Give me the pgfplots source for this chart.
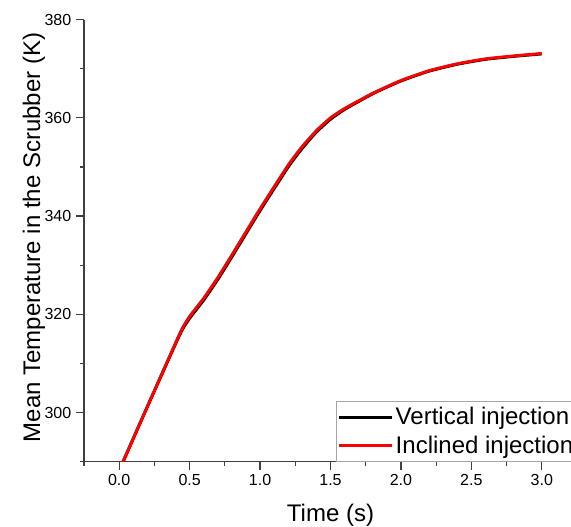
\documentclass[border=0pt]{standalone}
\usepackage{pgfplots}
\pgfplotsset{compat=1.18}
\usepackage{fontspec}
\setmainfont{Liberation Sans}
\begin{document}
\begin{tikzpicture}
\begin{axis}[
  scale only axis,
  width=369.75pt, height=331.65pt,
  xmin=-0.25, xmax=3.25, ymin=290, ymax=380,
  axis lines=left,
  axis line style={-, line width=1pt, black!75},
  tick style={line width=0.9pt, black!75},
  tick align=outside,
  major tick length=6pt, minor tick length=3pt,
  xtick={0,0.5,1,1.5,2,2.5,3},
  minor xtick={-0.25,0.25,0.75,1.25,1.75,2.25,2.75,3.25},
  ytick={300,320,340,360,380},
  minor ytick={290,310,330,350,370},
  x tick label style={/pgf/number format/.cd, fixed, fixed zerofill, precision=1},
  /pgf/number format/assume math mode=true,
  tick label style={font=\fontsize{12}{14}\selectfont},
  xlabel={Time (s)},
  ylabel={Mean Temperature in the Scrubber (K)},
  label style={font=\fontsize{18}{20}\selectfont},
  xlabel style={at={(rel axis cs:0.5,-0.1357)}, anchor=base},
  ylabel style={at={(rel axis cs:-0.0892,0.507)}, anchor=base},
  clip=true,
  legend style={at={(rel axis cs:0.5105,0)}, anchor=south west,
    draw=black!35, line width=0.7pt, font=\fontsize{18}{20}\selectfont,
    inner xsep=1pt, inner ysep=2.8pt, row sep=4pt,
    nodes={inner sep=1.5pt, anchor=west}},
  legend cell align=left,
  legend image code/.code={\draw[#1, line width=2.2pt] (0pt,0pt) -- (40pt,0pt);},
]
\addplot[black, line width=2.2pt, smooth, tension=0.3] coordinates {
(0,288.2) (0.2,301.2) (0.4,314.0) (0.45,317.0) (0.5,319.2)
(0.6,322.9) (0.7,327.1) (0.8,331.7) (1.0,341.1) (1.2,350.0)
(1.3,353.8) (1.4,357.1) (1.5,359.7) (1.6,361.7) (1.8,364.9)
(2.0,367.5) (2.2,369.5) (2.4,370.9) (2.6,371.9) (2.8,372.5) (3.0,373.0)
};
\addlegendentry{Vertical injection}
\addplot[red, line width=2.2pt, smooth, tension=0.3] coordinates {
(0,288.3) (0.2,301.3) (0.4,314.2) (0.45,317.3) (0.5,319.6)
(0.6,323.3) (0.7,327.5) (0.8,332.1) (1.0,341.5) (1.2,350.4)
(1.3,354.2) (1.4,357.4) (1.5,360.0) (1.6,361.9) (1.8,365.0)
(2.0,367.6) (2.2,369.6) (2.4,371.0) (2.6,372.0) (2.8,372.6) (3.0,373.1)
};
\addlegendentry{Inclined injection}
\coordinate (bl) at (rel axis cs:0,0);
\end{axis}
\pgfresetboundingbox
\path ([shift={(-63pt,-48.2pt)}]bl) rectangle ([shift={(365.25pt,346.3pt)}]bl);
\end{tikzpicture}
\end{document}
